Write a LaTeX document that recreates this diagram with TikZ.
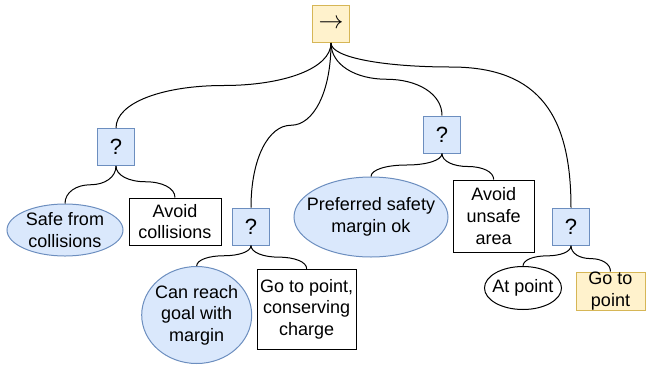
\documentclass[tikz,border=0pt]{standalone}
\usepackage{fontspec}
\setmainfont{Liberation Sans}
\usetikzlibrary{shapes.geometric,calc}
\definecolor{bfill}{HTML}{DAE8FC}
\definecolor{bdraw}{HTML}{6C8EBF}
\definecolor{yfill}{HTML}{FFF2CC}
\definecolor{ydraw}{HTML}{D6B656}
\tikzset{
  ctlbox/.style={draw=bdraw, fill=bfill, minimum width=37pt, minimum height=37pt, inner sep=0pt, font=\fontsize{22}{26}\selectfont},
  seqbox/.style={draw=ydraw, fill=yfill, minimum width=37pt, minimum height=37pt, inner sep=0pt, font=\fontsize{23}{26}\selectfont},
  condell/.style={ellipse, draw=bdraw, fill=bfill, inner sep=0pt},
  plainell/.style={ellipse, draw=black, fill=white, inner sep=0pt},
  actbox/.style={draw=black, fill=white, inner sep=0pt, align=center},
  goalbox/.style={draw=ydraw, fill=yfill, inner sep=0pt, align=center},
  txt/.style={inner sep=0pt, align=center},
  link/.style={to path={let \p1=(\tikztostart), \p2=(\tikztotarget), \p3=($(\p1)!0.5!(\p2)$) in
     .. controls (\x1,{\y1+0.6*(\y3-\y1)}) and ({\x3+0.56*(\x1-\x3)},\y3) .. (\p3)
     .. controls ({\x3+0.56*(\x2-\x3)},\y3) and (\x2,{\y2+0.6*(\y3-\y2)}) .. (\tikztotarget)}}
}
\begin{document}
\begin{tikzpicture}[x=1pt, y=-1pt, line width=1pt, font=\fontsize{18}{21.6}\selectfont]
\useasboundingbox (0,0) rectangle (646,365);
% nodes
\node[seqbox] (root) at (331,24) {$\rightarrow$};
\node[ctlbox] (q1) at (116,147) {?};
\node[ctlbox] (q2) at (251,226.5) {?};
\node[ctlbox] (q3) at (442,134.5) {?};
\node[ctlbox] (q4) at (571,226.7) {?};

\node[condell, minimum width=116pt, minimum height=52pt] (safe) at (65,230) {};
\node[txt] (safe-t) at (safe) {Safe from\\collisions};
\node[actbox, minimum width=92pt, minimum height=47pt] (avoidc) at (175,221.5) {Avoid\\collisions};

\node[condell, minimum width=110pt, minimum height=97pt] (reach) at (196.7,315) {};
\node[txt] (reach-t) at (reach) {Can reach\\goal with\\margin};
\node[actbox, minimum width=99pt, minimum height=80pt] (conserve) at (306.7,309.3) {Go to point,\\conserving\\charge};

\node[condell, minimum width=154pt, minimum height=80pt] (pref) at (371,217) {};
\node[txt] (pref-t) at (pref) {Preferred safety\\margin ok};
\node[actbox, minimum width=81pt, minimum height=72pt] (avoidu) at (493.7,216) {Avoid\\unsafe\\area};

\node[plainell, minimum width=77pt, minimum height=43pt] (atp) at (523,288) {};
\node[txt] (atp-t) at (atp) {At point};
\node[goalbox, minimum width=69pt, minimum height=38pt] (gotop) at (610.5,291) {Go to\\point};

% connectors
\coordinate (m4) at (451,67);
\draw (root.south) to[link] (q1.north);
\draw (root.south) to[link] (q2.north);
\draw (root.south) to[link] (q3.north);
\draw (root.south) .. controls +(0,15) and +(-65,0) .. (m4)
      .. controls +(90,0) and +(0,-90) .. (q4.north);

\draw (q1.south) to[link] (safe.north);
\draw (q1.south) to[link] (avoidc.north);
\draw (q2.south) to[link] (reach.north);
\draw (q2.south) to[link] (conserve.north);
\draw (q3.south) to[link] (pref.north);
\draw (q3.south) to[link] (avoidu.north);
\draw (q4.south) to[link] (atp.north);
\draw (q4.south) to[link] (gotop.north);
\end{tikzpicture}
\end{document}
